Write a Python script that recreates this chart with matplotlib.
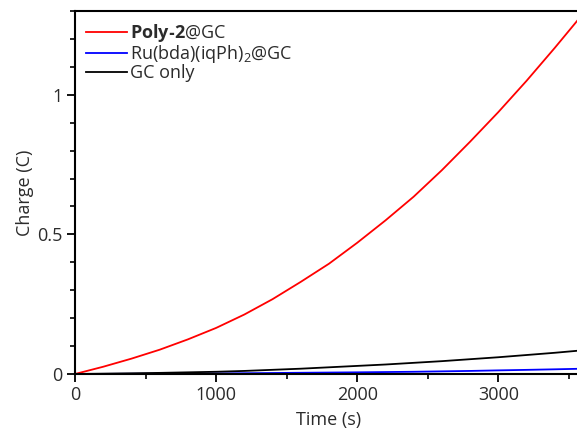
import matplotlib
matplotlib.use("Agg")
import matplotlib.pyplot as plt
from matplotlib.ticker import MultipleLocator

plt.rcParams['font.family'] = ['Open Sans', 'DejaVu Sans']
plt.rcParams['mathtext.fontset'] = 'custom'
plt.rcParams['mathtext.rm'] = 'Open Sans'
plt.rcParams['mathtext.bf'] = 'Open Sans:bold'
plt.rcParams['mathtext.it'] = 'Open Sans:italic'
plt.rcParams['text.color'] = '#2b2b2b'
plt.rcParams['axes.labelcolor'] = '#2b2b2b'
plt.rcParams['xtick.labelcolor'] = '#2b2b2b'
plt.rcParams['ytick.labelcolor'] = '#2b2b2b'

# Data
time_s = [0, 200, 400, 600, 800, 1000, 1200, 1400, 1600, 1800, 2000, 2200, 2400,
          2600, 2800, 3000, 3200, 3400, 3600]
poly2_gc = [0, 0.026, 0.055, 0.087, 0.124, 0.165, 0.213, 0.268, 0.330, 0.395, 0.470,
            0.550, 0.635, 0.730, 0.832, 0.938, 1.050, 1.168, 1.290]
ru_gc = [0, 0.0004, 0.0008, 0.0012, 0.0016, 0.002, 0.0028, 0.0036, 0.0044, 0.0052,
         0.006, 0.007, 0.008, 0.0095, 0.011, 0.013, 0.0148, 0.0168, 0.019]
gc_only = [0, 0.0012, 0.0025, 0.004, 0.006, 0.008, 0.011, 0.015, 0.019, 0.024, 0.029,
           0.034, 0.040, 0.046, 0.053, 0.060, 0.068, 0.076, 0.085]

labels = [r'$\mathbf{Poly‐2}$@GC', r'Ru(bda)(iqPh)$_2$@GC', 'GC only']
colors = ['#ff0000', '#0000ff', '#000000']

fig = plt.figure(figsize=(5.77, 4.30), dpi=100)
ax = fig.add_axes([75/577, 56/430, (583-75)/577, (374-11)/430])

for y, lab, c in zip([poly2_gc, ru_gc, gc_only], labels, colors):
    ax.plot(time_s, y, color=c, lw=1.3, label=lab)

ax.set_xlim(0, 3600)
ax.set_ylim(0, 1.3)
ax.xaxis.set_major_locator(MultipleLocator(1000))
ax.xaxis.set_minor_locator(MultipleLocator(500))
ax.yaxis.set_minor_locator(MultipleLocator(0.1))
ax.set_yticks([0, 0.5, 1])
ax.set_yticklabels(['0', '0.5', '1'])

for s in ax.spines.values():
    s.set_linewidth(1.5)
ax.spines['right'].set_visible(False)

ax.tick_params(which='major', direction='out', length=6, width=1.3, labelsize=13, pad=3)
ax.tick_params(which='minor', direction='out', length=3.5, width=1.2)

ax.set_xlabel('Time (s)', fontsize=13, labelpad=5)
ax.set_ylabel('Charge (C)', fontsize=13, labelpad=2)

leg = ax.legend(loc='upper left', frameon=False, fontsize=13, handlelength=2.3,
                handletextpad=0.15, labelspacing=-0.05, borderaxespad=0.2,
                bbox_to_anchor=(0.0, 1.0))

fig.savefig('out.png', dpi=100)
